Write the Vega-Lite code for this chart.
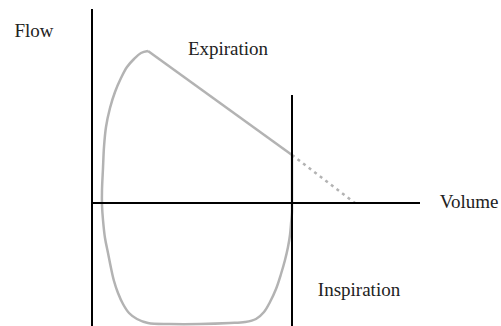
{
  "$schema": "https://vega.github.io/schema/vega-lite/v6.json",
  "width": 501,
  "height": 326,
  "padding": 0,
  "autosize": {"type": "none"},
  "background": "white",
  "config": {"view": {"stroke": null}},
  "datasets": {
    "loop": [
      {"volume": 148, "flow": 152, "o": 1},
      {"volume": 141, "flow": 150, "o": 2},
      {"volume": 134, "flow": 144, "o": 3},
      {"volume": 127, "flow": 136, "o": 4},
      {"volume": 121, "flow": 125, "o": 5},
      {"volume": 115, "flow": 111, "o": 6},
      {"volume": 110, "flow": 95, "o": 7},
      {"volume": 106, "flow": 76, "o": 8},
      {"volume": 104, "flow": 56, "o": 9},
      {"volume": 103, "flow": 35, "o": 10},
      {"volume": 102, "flow": 13, "o": 11},
      {"volume": 102, "flow": -2, "o": 12},
      {"volume": 103, "flow": -17, "o": 13},
      {"volume": 105, "flow": -35, "o": 14},
      {"volume": 108, "flow": -50, "o": 15},
      {"volume": 111, "flow": -65, "o": 16},
      {"volume": 114, "flow": -78, "o": 17},
      {"volume": 118, "flow": -90, "o": 18},
      {"volume": 123, "flow": -101, "o": 19},
      {"volume": 129, "flow": -110, "o": 20},
      {"volume": 137, "flow": -116, "o": 21},
      {"volume": 148, "flow": -120, "o": 22},
      {"volume": 170, "flow": -121, "o": 23},
      {"volume": 200, "flow": -121, "o": 24},
      {"volume": 230, "flow": -120, "o": 25},
      {"volume": 245, "flow": -119, "o": 26},
      {"volume": 256, "flow": -116, "o": 27},
      {"volume": 264, "flow": -109, "o": 28},
      {"volume": 270, "flow": -99, "o": 29},
      {"volume": 276, "flow": -86, "o": 30},
      {"volume": 281, "flow": -71, "o": 31},
      {"volume": 285, "flow": -57, "o": 32},
      {"volume": 288, "flow": -44, "o": 33},
      {"volume": 290, "flow": -32, "o": 34},
      {"volume": 291, "flow": -21, "o": 35},
      {"volume": 292, "flow": -9, "o": 36},
      {"volume": 292, "flow": 0, "o": 37},
      {"volume": 292, "flow": 48, "o": 38}
    ],
    "slope": [
      {"volume": 148, "flow": 152, "o": 1},
      {"volume": 292, "flow": 48, "o": 2}
    ],
    "extrap": [
      {"volume": 292, "flow": 48, "o": 1},
      {"volume": 355, "flow": 0, "o": 2}
    ],
    "axes": [
      {"x": 92, "x2": 92, "y": 194, "y2": -123},
      {"x": 92, "x2": 420, "y": 0, "y2": 0},
      {"x": 292, "x2": 292, "y": 108, "y2": -123}
    ],
    "labels": [
      {"volume": 34, "flow": 172, "text": "Flow"},
      {"volume": 469, "flow": 1, "text": "Volume"},
      {"volume": 228, "flow": 154, "text": "Expiration"},
      {"volume": 359, "flow": -87, "text": "Inspiration"}
    ]
  },
  "layer": [
    {
      "data": {"name": "loop"},
      "mark": {"type": "line", "interpolate": "catmull-rom", "color": "#b3b3b3", "strokeWidth": 2.5},
      "encoding": {
        "x": {"field": "volume", "type": "quantitative", "scale": {"domain": [0, 501], "nice": false, "zero": false}, "axis": null},
        "y": {"field": "flow", "type": "quantitative", "scale": {"domain": [-123, 203], "nice": false, "zero": false}, "axis": null},
        "order": {"field": "o"}
      }
    },
    {
      "data": {"name": "slope"},
      "mark": {"type": "line", "color": "#b3b3b3", "strokeWidth": 2.5},
      "encoding": {
        "x": {"field": "volume", "type": "quantitative"},
        "y": {"field": "flow", "type": "quantitative"},
        "order": {"field": "o"}
      }
    },
    {
      "data": {"name": "extrap"},
      "mark": {"type": "line", "color": "#b3b3b3", "strokeWidth": 2.5, "strokeDash": [3, 4]},
      "encoding": {
        "x": {"field": "volume", "type": "quantitative"},
        "y": {"field": "flow", "type": "quantitative"},
        "order": {"field": "o"}
      }
    },
    {
      "data": {"name": "axes"},
      "mark": {"type": "rule", "color": "#000000", "strokeWidth": 2},
      "encoding": {
        "x": {"field": "x", "type": "quantitative"},
        "x2": {"field": "x2"},
        "y": {"field": "y", "type": "quantitative"},
        "y2": {"field": "y2"}
      }
    },
    {
      "data": {"name": "labels"},
      "mark": {"type": "text", "font": "Liberation Serif", "fontSize": 19, "color": "#222222", "baseline": "middle", "align": "center"},
      "encoding": {
        "x": {"field": "volume", "type": "quantitative"},
        "y": {"field": "flow", "type": "quantitative"},
        "text": {"field": "text"}
      }
    }
  ]
}
